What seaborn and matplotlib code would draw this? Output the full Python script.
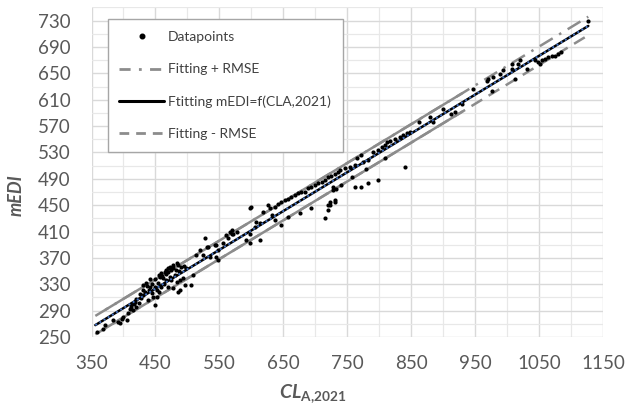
# mEDI against CL_A,2021 with the fitted line and the +/- RMSE band
import numpy as np
import matplotlib
matplotlib.use('Agg')
import matplotlib.pyplot as plt
from matplotlib.lines import Line2D
import seaborn as sns

# data points
cl = [358, 368, 371, 384, 391, 397, 399, 407, 410, 412, 418, 420, 425, 428, 430, 433, 430, 436,
      441, 444, 449, 446, 452, 454, 457, 459, 465, 467, 469, 472, 477, 483, 485, 462, 467, 472,
      475, 480, 483, 488, 493, 488, 485, 496, 506, 509, 477, 469, 459, 452, 438, 415, 405, 394,
      440, 445, 450, 455, 461, 466, 470, 474, 478, 482, 487, 490, 494, 498, 463, 456, 450, 442,
      437, 431, 426, 420, 416, 411,
      514, 524, 527, 532, 535, 545, 548, 555, 561, 569, 577,
      519, 530, 543, 548, 545, 566, 569, 571, 563, 598, 600, 598, 592, 598, 613, 605, 608, 618,
      626, 629, 637, 641, 647, 652, 657, 662, 668, 673, 678, 684, 688, 694, 699, 704, 710, 715,
      720, 725, 731, 736, 727, 731, 720, 715, 694, 676, 647, 613, 637, 657, 632,
      723, 731, 728, 733, 741, 738, 746, 754, 762, 765, 772, 775, 782, 790, 798, 804, 809, 812,
      817, 824, 832, 837, 843, 848, 762, 772, 782, 798, 809, 780, 840, 863, 879, 884, 900, 913,
      918, 723, 720, 757, 930,
      947, 976, 968, 970, 978, 989, 994, 1007, 1007, 1012, 1017, 1020, 1031, 1044, 1049, 1054,
      1059, 1064, 1070, 1075, 1080, 1085, 1051, 1127]
medi = [257, 262, 268, 276, 273, 278, 281, 286, 292, 298, 303, 296, 301, 309, 314, 319, 329, 332,
        326, 317, 298, 311, 321, 332, 341, 347, 349, 351, 354, 356, 359, 362, 359, 339, 336, 341,
        336, 344, 334, 336, 339, 321, 319, 329, 329, 344, 324, 326, 326, 311, 306, 291, 276, 271,
        322, 330, 338, 344, 343, 346, 349, 352, 354, 352, 350, 356, 358, 355, 330, 318, 326, 338,
        328, 322, 316, 308, 300, 295,
        374, 374, 400, 387, 372, 389, 367, 392, 405, 407, 410,
        382, 387, 389, 382, 372, 410, 412, 407, 400, 445, 447, 407, 397, 392, 397, 417, 425, 440,
        450, 445, 447, 452, 455, 458, 460, 463, 465, 468, 470, 470, 476, 478, 480, 483, 485, 488,
        493, 495, 498, 500, 478, 455, 450, 430, 445, 438, 420, 423, 427, 432, 435,
        450, 458, 473, 475, 480, 503, 506, 508, 511, 521, 526, 516, 518, 531, 533, 538, 541, 546,
        548, 551, 554, 556, 559, 561, 478, 478, 483, 488, 521, 505, 508, 576, 584, 576, 596, 589,
        591, 455, 442, 493, 603,
        627, 624, 639, 642, 644, 649, 655, 657, 665, 642, 665, 670, 657, 670, 667, 670,
        672, 675, 677, 677, 680, 682, 665, 730]

# fitted line and its RMSE
fit_cl = [356, 1127]
fit_medi = [268, 722]
rmse = 14
solid_cl = [372, 930]  # stretch where the band is drawn solid

sns.set_style('white')
plt.rcParams['font.family'] = ['Lato', 'DejaVu Sans']
plt.rcParams['mathtext.fontset'] = 'custom'
plt.rcParams['mathtext.bf'] = 'Lato:bold'
plt.rcParams['mathtext.bfit'] = 'Lato:italic:bold'

fig, ax = plt.subplots(figsize=(6.25, 4.07), dpi=100)
fig.subplots_adjust(left=0.1464, right=0.9648, bottom=0.172, top=0.9816)

grey = '#8c8c8c'
fit_medi = np.array(fit_medi)
solid_medi = np.interp(solid_cl, fit_cl, fit_medi)

# RMSE band
ax.plot(fit_cl, fit_medi + rmse, color=grey, lw=1.8, dashes=(6, 3, 1, 3))
ax.plot(fit_cl, fit_medi - rmse, color=grey, lw=1.8, dashes=(5, 3))
ax.plot(solid_cl, solid_medi + rmse, color=grey, lw=1.8)
ax.plot(solid_cl, solid_medi - rmse, color=grey, lw=1.8)

sns.scatterplot(x=cl, y=medi, ax=ax, color='black', s=9, linewidth=0, zorder=3)

ax.plot(fit_cl, fit_medi, color='black', lw=1.8, zorder=4)
ax.plot(fit_cl, fit_medi, color='#4472c4', lw=1.4, dashes=(1, 1.5), zorder=5)

ax.set_xlim(350, 1150)
ax.set_ylim(250, 750)
ax.set_xticks(np.arange(350, 1151, 100))
ax.set_xticks(np.arange(400, 1150, 100), minor=True)
ax.set_yticks(np.arange(250, 731, 40))
ax.set_yticks(np.arange(270, 751, 40), minor=True)
ax.grid(which='major', color='#d9d9d9', lw=1)
ax.grid(which='minor', color='#e8e8e8', lw=0.9)
ax.set_axisbelow(True)
ax.tick_params(which='both', length=0, labelsize=13.5, labelcolor='#595959')
ax.tick_params(axis='x', pad=13)
ax.tick_params(axis='y', pad=15)
sns.despine(ax=ax, left=True, bottom=True)

ax.set_xlabel(r'$\mathbfit{CL}_{\mathbf{A{,}2021}}$', fontsize=14, color='#595959')
ax.set_ylabel('mEDI', fontsize=13, color='#595959', fontweight='bold', fontstyle='italic')
ax.xaxis.set_label_coords(0.433, -0.14)
ax.yaxis.set_label_coords(-0.13, 0.43)

handles = [
    Line2D([], [], ls='none', marker='o', color='black', markersize=3.3),
    Line2D([], [], color=grey, lw=2, dashes=(4, 3, 1, 3)),
    Line2D([], [], color='black', lw=2.2),
    Line2D([], [], color=grey, lw=2, dashes=(3.5, 2.5)),
]
labels = ['Datapoints', 'Fitting + RMSE', 'Ftitting mEDI=f(CLA,2021)', 'Fitting - RMSE']
leg = ax.legend(handles, labels, loc='upper left', bbox_to_anchor=(100.7 / 625, 1 - 12.5 / 407),
                bbox_transform=fig.transFigure, fontsize=10, frameon=True, fancybox=False,
                framealpha=1, edgecolor='#a6a6a6', handlelength=3.2, handletextpad=0.3,
                labelspacing=1.45, borderpad=0.85)
leg.get_frame().set_linewidth(1)
for t in leg.get_texts():
    t.set_color('#404040')

fig.savefig('out.png', dpi=100)
